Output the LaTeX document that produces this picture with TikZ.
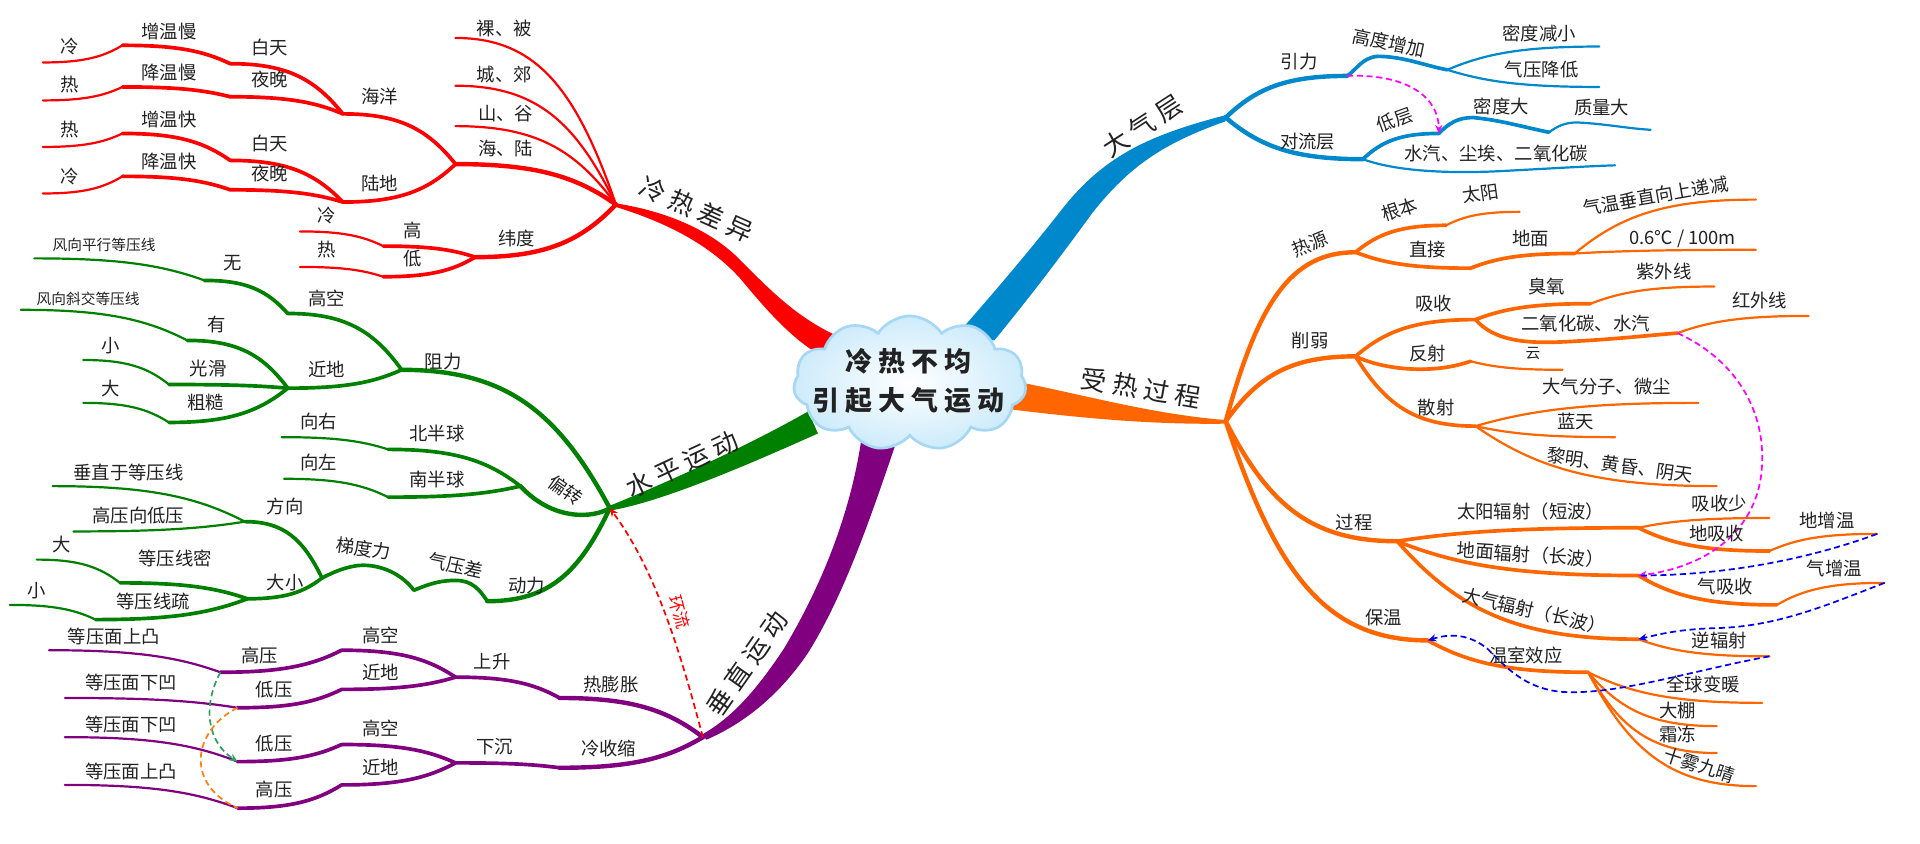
\documentclass[tikz,border=0pt]{standalone}
\usepackage{fontspec}
\setmainfont{Noto Sans CJK SC}
\usetikzlibrary{calc,shapes.symbols,arrows.meta}
\definecolor{cR}{HTML}{FF0000}
\definecolor{cG}{HTML}{008000}
\definecolor{cP}{HTML}{800080}
\definecolor{cB}{HTML}{0088CC}
\definecolor{cO}{HTML}{FF6600}
\definecolor{cM}{HTML}{FF00FF}
\definecolor{cD}{HTML}{0000EE}
\definecolor{cGd}{HTML}{2E9E62}
\definecolor{cOd}{HTML}{FF7F11}
\definecolor{txt}{HTML}{222222}
\definecolor{cloudE}{HTML}{A6D7F4}
\definecolor{cloudF}{HTML}{CDEBFB}
\newcommand{\gp}{\kern5pt}
\newcommand{\mylink}[3]{\draw[#1] let \p1=(#2), \p2=(#3) in (\p1) .. controls ({\x1+0.25*(\x2-\x1)},{\y1+0.7*(\y2-\y1)}) and ({0.5*(\x1+\x2)},\y2) .. (\p2);}
\tikzset{
  lb/.style={font=\fontsize{15}{15}\selectfont, text=txt, inner sep=0pt},
  sm/.style={font=\fontsize{12}{12}\selectfont, text=txt, inner sep=0pt},
  bg/.style={font=\fontsize{21}{21}\selectfont, text=txt, inner sep=0pt},
  ln/.style={line width=3pt, line cap=round},
  lf/.style={line width=1.8pt, line cap=round},
  l1/.style={line width=3.6pt, line cap=round},
  dsh/.style={dash pattern=on 5pt off 3pt, line width=1.4pt},
  arr/.style={-{Stealth[length=7pt,width=6pt]}}
}
\begin{document}
\begin{tikzpicture}[x=1pt,y=-1pt]
\useasboundingbox (0,0) rectangle (1568,689);
\fill[white] (0,0) rectangle (1568,689);

% ---------- coordinates ----------
% red
\coordinate (r0) at (503,167);
\coordinate (rA) at (372,31);
\coordinate (rB) at (372,70);
\coordinate (rC) at (372,103);
\coordinate (rD) at (372,134);
\coordinate (rE) at (280,93);
\coordinate (rF) at (280,165);
\coordinate (rE1) at (188,52);
\coordinate (rE2) at (188,79);
\coordinate (rE11) at (100,37);
\coordinate (rE111) at (35,51);
\coordinate (rE21) at (100,71);
\coordinate (rE211) at (35,82);
\coordinate (rF1) at (188,131);
\coordinate (rF2) at (188,155);
\coordinate (rF11) at (100,109);
\coordinate (rF111) at (35,120);
\coordinate (rF21) at (100,144);
\coordinate (rF211) at (35,158);
\coordinate (rG) at (388,210);
\coordinate (rG1) at (313,201);
\coordinate (rG2) at (313,226);
\coordinate (rG11) at (245,189);
\coordinate (rG21) at (245,218);
% green
\coordinate (g0) at (498,415);
\coordinate (gA) at (328,302);
\coordinate (gA1) at (235,256);
\coordinate (gA11) at (167,229);
\coordinate (gA111) at (28,211);
\coordinate (gA2) at (235,317);
\coordinate (gA21) at (153,278);
\coordinate (gA211) at (17,253);
\coordinate (gA22) at (138,314);
\coordinate (gA221) at (68,294);
\coordinate (gA23) at (138,345);
\coordinate (gA231) at (68,329);
\coordinate (gB) at (425,397);
\coordinate (gB1) at (317,367);
\coordinate (gB11) at (230,357);
\coordinate (gB2) at (317,406);
\coordinate (gB21) at (232,391);
\coordinate (gC) at (398,491);
\coordinate (gC1) at (338,482);
\coordinate (gC2) at (263,472);
\coordinate (gC3) at (200,426);
\coordinate (gC31) at (43,397);
\coordinate (gC32) at (60,434);
\coordinate (gC4) at (202,489);
\coordinate (gC41) at (98,476);
\coordinate (gC411) at (30,457);
\coordinate (gC42) at (78,506);
\coordinate (gC421) at (8,494);
% purple
\coordinate (p0) at (574,602);
\coordinate (pA) at (457,570);
\coordinate (pA1) at (372,553);
\coordinate (pA11) at (279,531);
\coordinate (pA111) at (180,549);
\coordinate (pA1111) at (40,531);
\coordinate (pA12) at (279,563);
\coordinate (pA121) at (194,578);
\coordinate (pA1211) at (53,570);
\coordinate (pB) at (457,627);
\coordinate (pB1) at (372,623);
\coordinate (pB11) at (279,608);
\coordinate (pB111) at (194,622);
\coordinate (pB1111) at (53,602);
\coordinate (pB12) at (279,641);
\coordinate (pB121) at (194,660);
\coordinate (pB1211) at (53,641);
% blue
\coordinate (b0) at (1001,96);
\coordinate (bA) at (1100,62);
\coordinate (bA1) at (1182,57);
\coordinate (bA11) at (1306,38);
\coordinate (bA12) at (1306,71);
\coordinate (bB) at (1113,130);
\coordinate (bB1) at (1175,109);
\coordinate (bB11) at (1265,108);
\coordinate (bB111) at (1348,106);
\coordinate (bB2) at (1319,135);
% orange
\coordinate (o0) at (1001,344);
\coordinate (oA) at (1107,206);
\coordinate (oA1) at (1181,184);
\coordinate (oA11) at (1241,173);
\coordinate (oA2) at (1201,219);
\coordinate (oA21) at (1286,207);
\coordinate (oA211) at (1434,163);
\coordinate (oA212) at (1434,204);
\coordinate (oB) at (1107,291);
\coordinate (oB1) at (1205,261);
\coordinate (oB11) at (1299,248);
\coordinate (oB111) at (1400,234);
\coordinate (oB12) at (1370,272);
\coordinate (oB121) at (1477,258);
\coordinate (oB2) at (1201,295);
\coordinate (oB21) at (1276,302);
\coordinate (oB3) at (1205,348);
\coordinate (oB31) at (1387,329);
\coordinate (oB32) at (1319,357);
\coordinate (oB33) at (1402,397);
\coordinate (oC) at (1141,442);
\coordinate (oC1) at (1338,431);
\coordinate (oC11) at (1445,423);
\coordinate (oC12) at (1445,450);
\coordinate (oC121) at (1533,436);
\coordinate (oC2) at (1338,470);
\coordinate (oC21) at (1451,494);
\coordinate (oC211) at (1539,476);
\coordinate (oC3) at (1338,522);
\coordinate (oC31) at (1445,536);
\coordinate (oD) at (1166,523);
\coordinate (oD1) at (1297,549);
\coordinate (oD11) at (1439,574);
\coordinate (oD12) at (1402,593);
\coordinate (oD13) at (1402,615);
\coordinate (oD14) at (1434,642);

% ---------- trunks ----------
\fill[cR] (503,166) .. controls (540,172) and (575,185) .. (600,208) .. controls (625,232) and (655,268) .. (705,282)
  -- (690,300) .. controls (655,287) and (630,258) .. (605,228) .. controls (580,200) and (545,182) .. (503,169) -- cycle;
\fill[cB] (780,275) .. controls (808,243) and (835,212) .. (868,170) .. controls (903,126) and (940,110) .. (1001,94)
  -- (1001,99) .. controls (950,117) and (922,136) .. (892,174) .. controls (860,218) and (835,250) .. (812,278) -- cycle;
\fill[cO] (815,309) .. controls (870,318) and (935,338) .. (1001,343) -- (1001,346) .. controls (935,347) and (870,340) .. (815,333) -- cycle;
\fill[cG] (498,413) .. controls (530,400) and (600,370) .. (660,336) -- (668,354) .. controls (610,380) and (540,410) .. (498,417) -- cycle;
\fill[cP] (704,355) .. controls (695,420) and (670,480) .. (640,530) .. controls (620,560) and (600,585) .. (573,600)
  -- (577,604) .. controls (605,592) and (635,570) .. (660,533) .. controls (690,485) and (712,420) .. (734,355) -- cycle;

% ---------- red links ----------
\mylink{cR,lf}{r0}{rA}
\mylink{cR,lf}{r0}{rB}
\mylink{cR,lf}{r0}{rC}
\mylink{cR,l1}{r0}{rD}
\mylink{cR,ln}{rD}{rE}
\mylink{cR,ln}{rD}{rF}
\mylink{cR,ln}{rE}{rE1}
\mylink{cR,ln}{rE}{rE2}
\mylink{cR,ln}{rE1}{rE11}
\mylink{cR,lf}{rE11}{rE111}
\mylink{cR,ln}{rE2}{rE21}
\mylink{cR,lf}{rE21}{rE211}
\mylink{cR,ln}{rF}{rF1}
\mylink{cR,ln}{rF}{rF2}
\mylink{cR,ln}{rF1}{rF11}
\mylink{cR,lf}{rF11}{rF111}
\mylink{cR,ln}{rF2}{rF21}
\mylink{cR,lf}{rF21}{rF211}
\mylink{cR,l1}{r0}{rG}
\mylink{cR,ln}{rG}{rG1}
\mylink{cR,ln}{rG}{rG2}
\mylink{cR,lf}{rG1}{rG11}
\mylink{cR,lf}{rG2}{rG21}

% ---------- green links ----------
\mylink{cG,l1}{g0}{gA}
\mylink{cG,ln}{gA}{gA1}
\mylink{cG,ln}{gA1}{gA11}
\mylink{cG,lf}{gA11}{gA111}
\mylink{cG,ln}{gA}{gA2}
\mylink{cG,ln}{gA2}{gA21}
\mylink{cG,lf}{gA21}{gA211}
\mylink{cG,ln}{gA2}{gA22}
\mylink{cG,lf}{gA22}{gA221}
\mylink{cG,ln}{gA2}{gA23}
\mylink{cG,lf}{gA23}{gA231}
\draw[cG,l1] (g0) .. controls (485,423) and (452,426) .. (gB);
\mylink{cG,ln}{gB}{gB1}
\mylink{cG,lf}{gB1}{gB11}
\mylink{cG,ln}{gB}{gB2}
\mylink{cG,lf}{gB2}{gB21}
\mylink{cG,l1}{g0}{gC}
\draw[cG,ln] (gC) .. controls (392,482) and (386,474) .. (372,474) .. controls (356,474) and (346,479) .. (gC1);
\draw[cG,ln] (gC1) .. controls (326,466) and (306,460) .. (291,462) .. controls (279,464) and (271,468) .. (gC2);
\mylink{cG,ln}{gC2}{gC3}
\mylink{cG,lf}{gC3}{gC31}
\mylink{cG,lf}{gC3}{gC32}
\mylink{cG,ln}{gC2}{gC4}
\mylink{cG,ln}{gC4}{gC41}
\mylink{cG,lf}{gC41}{gC411}
\mylink{cG,ln}{gC4}{gC42}
\mylink{cG,lf}{gC42}{gC421}

% ---------- purple links ----------
\mylink{cP,l1}{p0}{pA}
\mylink{cP,ln}{pA}{pA1}
\mylink{cP,ln}{pA1}{pA11}
\mylink{cP,ln}{pA11}{pA111}
\mylink{cP,lf}{pA111}{pA1111}
\mylink{cP,ln}{pA1}{pA12}
\mylink{cP,ln}{pA12}{pA121}
\mylink{cP,lf}{pA121}{pA1211}
\mylink{cP,l1}{p0}{pB}
\mylink{cP,ln}{pB}{pB1}
\mylink{cP,ln}{pB1}{pB11}
\mylink{cP,ln}{pB11}{pB111}
\mylink{cP,lf}{pB111}{pB1111}
\mylink{cP,ln}{pB1}{pB12}
\mylink{cP,ln}{pB12}{pB121}
\mylink{cP,lf}{pB121}{pB1211}

% ---------- blue links ----------
\mylink{cB,l1}{b0}{bA}
\draw[cB,ln] (bA) .. controls (1107,58) and (1112,47) .. (1125,46) .. controls (1146,46) and (1165,54) .. (bA1);
\mylink{cB,lf}{bA1}{bA11}
\mylink{cB,lf}{bA1}{bA12}
\mylink{cB,l1}{b0}{bB}
\mylink{cB,ln}{bB}{bB1}
\draw[cB,ln] (bB1) .. controls (1183,101) and (1190,96) .. (1203,96) .. controls (1225,98) and (1245,104) .. (bB11);
\draw[cB,lf] (bB11) .. controls (1272,103) and (1278,100) .. (1288,100) .. controls (1310,101) and (1330,105) .. (bB111);
\draw[cB,lf] (bB) .. controls (1135,138) and (1170,142) .. (1220,140) .. controls (1260,138) and (1290,136) .. (bB2);

% ---------- orange links ----------
\mylink{cO,l1}{o0}{oA}
\mylink{cO,ln}{oA}{oA1}
\mylink{cO,lf}{oA1}{oA11}
\mylink{cO,ln}{oA}{oA2}
\mylink{cO,ln}{oA2}{oA21}
\mylink{cO,lf}{oA21}{oA211}
\mylink{cO,lf}{oA21}{oA212}
\mylink{cO,l1}{o0}{oB}
\mylink{cO,ln}{oB}{oB1}
\mylink{cO,ln}{oB1}{oB11}
\mylink{cO,lf}{oB11}{oB111}
\draw[cO,ln] (oB1) .. controls (1220,278) and (1245,281) .. (1280,279) .. controls (1320,277) and (1345,274) .. (oB12);
\mylink{cO,lf}{oB12}{oB121}
\draw[cO,ln] (oB) .. controls (1130,302) and (1170,306) .. (oB2);
\mylink{cO,lf}{oB2}{oB21}
\mylink{cO,ln}{oB}{oB3}
\mylink{cO,lf}{oB3}{oB31}
\mylink{cO,lf}{oB3}{oB32}
\mylink{cO,lf}{oB3}{oB33}
\mylink{cO,l1}{o0}{oC}
\mylink{cO,ln}{oC}{oC1}
\mylink{cO,lf}{oC1}{oC11}
\mylink{cO,ln}{oC1}{oC12}
\mylink{cO,lf}{oC12}{oC121}
\mylink{cO,ln}{oC}{oC2}
\mylink{cO,ln}{oC2}{oC21}
\mylink{cO,lf}{oC21}{oC211}
\mylink{cO,ln}{oC}{oC3}
\mylink{cO,lf}{oC3}{oC31}
\mylink{cO,l1}{o0}{oD}
\mylink{cO,ln}{oD}{oD1}
\mylink{cO,lf}{oD1}{oD11}
\mylink{cO,lf}{oD1}{oD12}
\mylink{cO,lf}{oD1}{oD13}
\mylink{cO,lf}{oD1}{oD14}

% ---------- dashed relations ----------
\draw[cM,dsh,arr] (bA) .. controls (1150,60) and (1175,80) .. (bB1);
\draw[cM,dsh,arr] (oB12) .. controls (1420,295) and (1445,340) .. (1438,390) .. controls (1432,430) and (1400,462) .. (oC2);
\draw[cD,dsh] (oC121) .. controls (1490,452) and (1420,470) .. (oC2);
\draw[cD,dsh,arr] (oC211) .. controls (1490,495) and (1450,512) .. (1400,513) .. controls (1370,514) and (1355,518) .. (oC3);
\draw[cD,dsh,arr] (oC31) .. controls (1380,548) and (1320,568) .. (1275,565) .. controls (1245,562) and (1230,545) .. (1215,530) .. controls (1200,518) and (1185,517) .. (oD);
\draw[cR,dsh,arr] (p0) .. controls (555,530) and (535,465) .. (g0);
\draw[cGd,dsh,arr] (pA111) .. controls (166,575) and (168,605) .. (pB111);
\draw[cOd,dsh] (pA121) .. controls (158,596) and (150,640) .. (pB121);

% ---------- centre ----------
\node[cloud, cloud puffs=11, cloud puff arc=115, aspect=1.7, minimum width=190pt, minimum height=110pt,
  draw=cloudE, line width=2.2pt, inner color=white, outer color=cloudF, inner sep=0pt] (cloud) at (743,313) {};
\node[font=\fontsize{22}{32}\selectfont\bfseries, text=txt, align=center, inner sep=0pt] (ctitle) at (742,311)
  {冷\gp 热\gp 不\gp 均\\引\gp 起\gp 大\gp 气\gp 运\gp 动};

% ---------- main labels ----------
\node[bg,rotate=-24] (mR) at (569,171) {冷\gp 热\gp 差\gp 异};
\node[bg,rotate=33] (mB) at (933,103) {大\gp 气\gp 层};
\node[bg,rotate=-10] (mO) at (932,317) {受\gp 热\gp 过\gp 程};
\node[bg,rotate=25] (mG) at (557,379) {水\gp 平\gp 运\gp 动};
\node[bg,rotate=55] (mP) at (610,542) {垂\gp 直\gp 运\gp 动};
\node[font=\fontsize{14}{14}\selectfont, text=cR, inner sep=0pt, rotate=-75] (hl) at (555,500) {环流};

% ---------- red labels ----------
\node[lb] (tr1) at (412,23) {裸、被};
\node[lb] (tr2) at (412,61) {城、郊};
\node[lb] (tr3) at (413,93) {山、谷};
\node[lb] (tr4) at (413,121) {海、陆};
\node[lb] (tr5) at (310,79) {海洋};
\node[lb] (tr6) at (310,150) {陆地};
\node[lb] (tr7) at (220,39) {白天};
\node[lb] (tr8) at (220,65) {夜晚};
\node[lb] (tr9) at (138,26) {增温慢};
\node[lb] (tr10) at (57,38) {冷};
\node[lb] (tr11) at (138,59) {降温慢};
\node[lb] (tr12) at (57,69) {热};
\node[lb] (tr13) at (220,117) {白天};
\node[lb] (tr14) at (220,142) {夜晚};
\node[lb] (tr15) at (138,98) {增温快};
\node[lb] (tr16) at (57,106) {热};
\node[lb] (tr17) at (138,132) {降温快};
\node[lb] (tr18) at (57,144) {冷};
\node[lb] (tr19) at (422,195) {纬度};
\node[lb] (tr20) at (337,188) {高};
\node[lb] (tr21) at (337,211) {低};
\node[lb] (tr22) at (267,176) {冷};
\node[lb] (tr23) at (267,204) {热};

% ---------- green labels ----------
\node[lb] (tg1) at (362,295) {阻力};
\node[lb] (tg2) at (267,244) {高空};
\node[lb] (tg3) at (190,215) {无};
\node[sm] (tg4) at (85,200) {风向平行等压线};
\node[lb] (tg5) at (267,302) {近地};
\node[lb] (tg6) at (177,265) {有};
\node[sm] (tg7) at (72,244) {风向斜交等压线};
\node[lb] (tg8) at (170,301) {光滑};
\node[lb] (tg9) at (90,282) {小};
\node[lb] (tg10) at (168,329) {粗糙};
\node[lb] (tg11) at (90,317) {大};
\node[lb,rotate=-35] (tg12) at (462,400) {偏转};
\node[lb] (tg13) at (357,354) {北半球};
\node[lb] (tg14) at (260,344) {向右};
\node[lb] (tg15) at (357,392) {南半球};
\node[lb] (tg16) at (260,378) {向左};
\node[lb] (tg17) at (430,478) {动力};
\node[lb,rotate=-12] (tg18) at (372,462) {气压差};
\node[lb,rotate=-8] (tg19) at (297,448) {梯度力};
\node[lb] (tg20) at (233,414) {方向};
\node[lb] (tg21) at (105,386) {垂直于等压线};
\node[lb] (tg22) at (113,421) {高压向低压};
\node[lb] (tg23) at (233,476) {大小};
\node[lb] (tg24) at (143,456) {等压线密};
\node[lb] (tg25) at (50,445) {大};
\node[lb] (tg26) at (125,491) {等压线疏};
\node[lb] (tg27) at (30,482) {小};

% ---------- purple labels ----------
\node[lb] (tp1) at (499,559) {热膨胀};
\node[lb] (tp2) at (497,611) {冷收缩};
\node[lb] (tp3) at (402,540) {上升};
\node[lb] (tp4) at (311,519) {高空};
\node[lb] (tp5) at (311,549) {近地};
\node[lb] (tp6) at (212,535) {高压};
\node[lb] (tp7) at (224,563) {低压};
\node[lb] (tp8) at (93,520) {等压面上凸};
\node[lb] (tp9) at (107,557) {等压面下凹};
\node[lb] (tp10) at (404,610) {下沉};
\node[lb] (tp11) at (311,595) {高空};
\node[lb] (tp12) at (311,627) {近地};
\node[lb] (tp13) at (224,607) {低压};
\node[lb] (tp14) at (224,645) {高压};
\node[lb] (tp15) at (107,592) {等压面下凹};
\node[lb] (tp16) at (107,630) {等压面上凸};

% ---------- blue labels ----------
\node[lb] (tb1) at (1061,50) {引力};
\node[lb,rotate=-12] (tb2) at (1134,35) {高度增加};
\node[lb] (tb3) at (1257,27) {密度减小};
\node[lb] (tb4) at (1259,57) {气压降低};
\node[lb] (tb5) at (1068,116) {对流层};
\node[lb,rotate=20] (tb6) at (1139,98) {低层};
\node[lb] (tb7) at (1226,87) {密度大};
\node[lb] (tb8) at (1308,88) {质量大};
\node[lb] (tb9) at (1222,125) {水汽、尘埃、二氧化碳};

% ---------- orange labels ----------
\node[lb,rotate=22] (to1) at (1070,199) {热源};
\node[lb,rotate=18] (to2) at (1143,171) {根本};
\node[lb,rotate=8] (to3) at (1209,158) {太阳};
\node[lb] (to4) at (1166,204) {直接};
\node[lb] (to5) at (1250,195) {地面};
\node[lb,rotate=10] (to6) at (1352,160) {气温垂直向上递减};
\node[lb] (to7) at (1374,195) {0.6℃ / 100m};
\node[lb] (to8) at (1070,278) {削弱};
\node[lb] (to9) at (1171,248) {吸收};
\node[lb] (to10) at (1263,234) {臭氧};
\node[lb] (to11) at (1359,222) {紫外线};
\node[lb] (to12) at (1295,264) {二氧化碳、水汽};
\node[lb] (to13) at (1437,245) {红外线};
\node[lb] (to14) at (1166,289) {反射};
\node[sm] (to15) at (1252,289) {云};
\node[lb] (to16) at (1173,333) {散射};
\node[lb] (to17) at (1312,316) {大气分子、微尘};
\node[lb] (to18) at (1287,344) {蓝天};
\node[lb,rotate=-8] (to19) at (1323,380) {黎明、黄昏、阴天};
\node[lb] (to20) at (1106,427) {过程};
\node[lb] (to21) at (1250,418) {太阳辐射（短波）};
\node[lb] (to22) at (1404,411) {吸收少};
\node[lb] (to23) at (1402,436) {地吸收};
\node[lb] (to24) at (1492,425) {地增温};
\node[lb,rotate=-4] (to25) at (1250,453) {地面辐射（长波）};
\node[lb] (to26) at (1409,479) {气吸收};
\node[lb] (to27) at (1498,464) {气增温};
\node[lb,rotate=-13] (to28) at (1253,499) {大气辐射（长波）};
\node[lb] (to29) at (1404,523) {逆辐射};
\node[lb] (to30) at (1130,504) {保温};
\node[lb] (to31) at (1246,535) {温室效应};
\node[lb] (to32) at (1391,559) {全球变暖};
\node[lb] (to33) at (1370,580) {大棚};
\node[lb] (to34) at (1370,600) {霜冻};
\node[lb,rotate=-18] (to35) at (1388,625) {十雾九晴};
\end{tikzpicture}
\end{document}
